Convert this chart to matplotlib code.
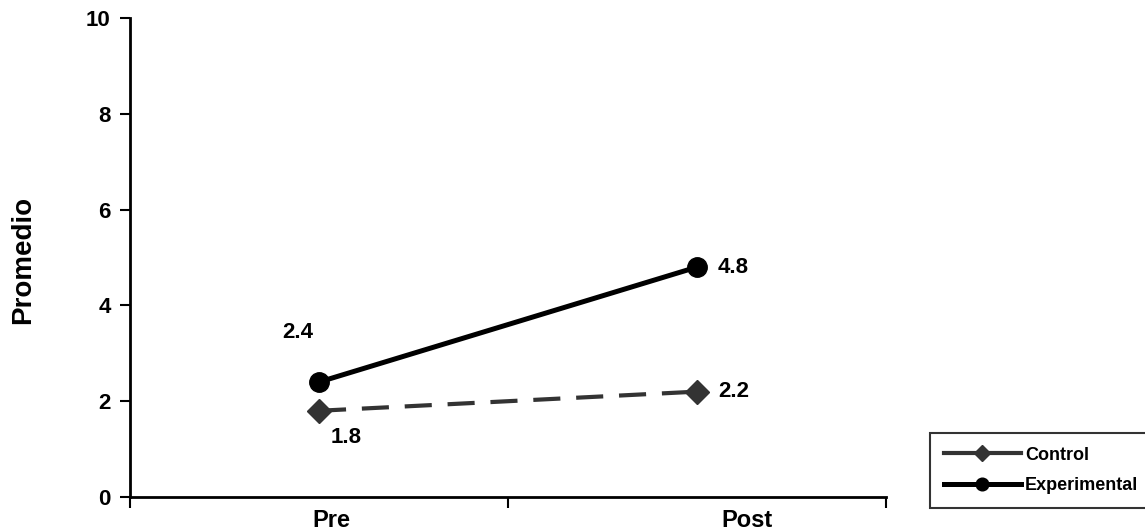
import numpy as np
import matplotlib.pyplot as plt

plt.rcParams['font.family'] = ['Liberation Sans', 'DejaVu Sans']
plt.rcParams['font.weight'] = 'bold'

fases = ['Pre', 'Post']
control = [1.8, 2.2]
experimental = [2.4, 4.8]

x = np.array([0.5, 1.5])

W, H = 1145, 532
fig = plt.figure(figsize=(W/100, H/100), dpi=100)
ax = fig.add_axes([130/W, 35/H, 756/W, 479/H])

ax.plot(x, control, c='#333333', lw=3, ls=(0, (6.5, 3.8)), marker='D', ms=12.5,
        mfc='#333333', mec='#333333', label='Control', zorder=3)
ax.plot(x, experimental, c='black', lw=3.6, marker='o', ms=14,
        label='Experimental', zorder=4)

# etiquetas de datos (desplazamiento en pixeles)
etiquetas = [(experimental[0], x[0], (-37, 50)),
             (control[0], x[0], (12, -27)),
             (experimental[1], x[1], (21, 0)),
             (control[1], x[1], (21, 0))]
for val, xi, off in etiquetas:
    ax.annotate(f'{val:.1f}', (xi, val), xytext=off, textcoords='offset pixels',
                ha='left', va='center', fontsize=16, fontweight='bold')

ax.set_xlim(0, 2)
ax.set_ylim(0, 10)
ax.set_yticks([0, 2, 4, 6, 8, 10])
ax.set_xticks([0, 1, 2])
ax.set_xticklabels([])
ax.tick_params(axis='x', length=8, width=1.5, direction='out')
ax.tick_params(axis='y', length=7, width=1.5, direction='out', labelsize=16, pad=7)
for lab in ax.get_yticklabels():
    lab.set_fontweight('bold')

# categorias del eje x
for xi, name, dx in zip(x, fases, [12, 50]):
    ax.annotate(name, (xi, 0), xycoords=('data', 'axes fraction'), xytext=(dx, -12),
                textcoords='offset pixels', ha='center', va='top', fontsize=17,
                fontweight='bold', annotation_clip=False)

ax.spines['top'].set_visible(False)
ax.spines['right'].set_visible(False)
ax.spines['left'].set_linewidth(2)
ax.spines['bottom'].set_linewidth(2)

ax.set_ylabel('Promedio', fontsize=20, fontweight='bold')
ax.yaxis.set_label_coords(-94/756, (H - 260 - 35)/479)

leg = ax.legend(loc='upper left', bbox_to_anchor=(930/W, 1 - 433/H),
                bbox_transform=fig.transFigure, fontsize=13, frameon=True, fancybox=False,
                handlelength=4.3, handletextpad=0.2, borderpad=0.75, labelspacing=0.75,
                markerscale=0.65, borderaxespad=0)
leg.get_frame().set_edgecolor('black')
leg.get_frame().set_linewidth(1.5)
for ln in leg.get_lines():
    ln.set_linestyle('-')
for t in leg.get_texts():
    t.set_fontweight('bold')

fig.savefig('out.png', dpi=100)
